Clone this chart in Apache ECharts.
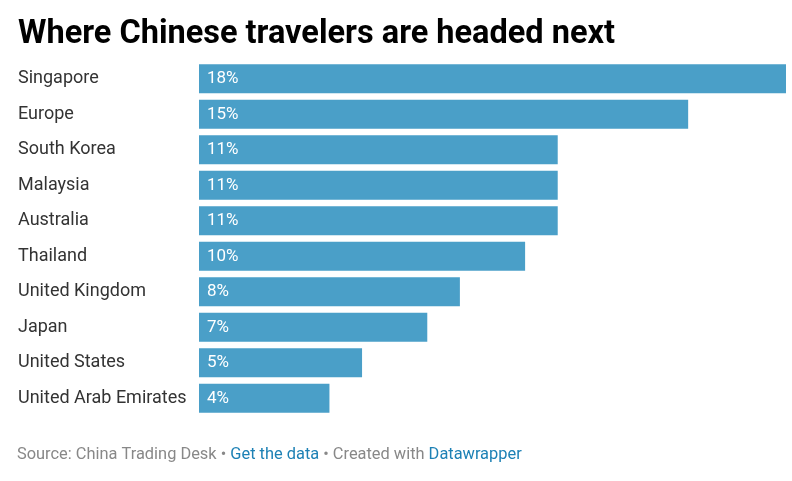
<!DOCTYPE html>
<html>
<head>
<meta charset="utf-8">
<script src="https://cdn.jsdelivr.net/npm/echarts@6/dist/echarts.min.js"></script>
<style>html,body{margin:0;padding:0;background:#fff}#c{width:792px;height:481px}</style>
</head>
<body>
<div id="c"></div>
<script>
const categories = ["Singapore","Europe","South Korea","Malaysia","Australia","Thailand","United Kingdom","Japan","United States","United Arab Emirates"];
const values = [18,15,11,11,11,10,8,7,5,4];

const chart = echarts.init(document.getElementById('c'), null, {renderer:'canvas'});
chart.setOption({
  animation:false,
  backgroundColor:'#fff',
  textStyle:{fontFamily:'Roboto'},
  title:[{
    text:'Where Chinese travelers are headed next',
    left:13, top:13,
    textStyle:{fontFamily:'Roboto',fontSize:32.5,fontWeight:'bold',color:'#000'}
  },{
    text:'{g|Source: China Trading Desk • }{b|Get the data}{g| • Created with }{b|Datawrapper}',
    left:12, top:442,
    textStyle:{fontWeight:'normal',rich:{
      g:{fontFamily:'Roboto',fontSize:16.4,fontWeight:'normal',color:'#888'},
      b:{fontFamily:'Roboto',fontSize:16.4,fontWeight:'normal',color:'#1d81b5'}
    }}
  }],
  grid:{left:199,right:6,top:61,bottom:65,containLabel:false},
  xAxis:{type:'value',min:0,max:18,show:false},
  yAxis:{type:'category',data:categories,inverse:true,
    axisLine:{show:false},axisTick:{show:false},
    axisLabel:{align:'left',margin:181,fontFamily:'Roboto',fontSize:18,color:'#333'}},
  series:[{
    type:'bar',data:values,barCategoryGap:'18%',
    itemStyle:{color:'#4a9fc8'},
    label:{show:true,position:'insideLeft',distance:8,formatter:'{c}%',color:'#fff',fontFamily:'Roboto',fontSize:17}
  }]
});
</script>
</body>
</html>
